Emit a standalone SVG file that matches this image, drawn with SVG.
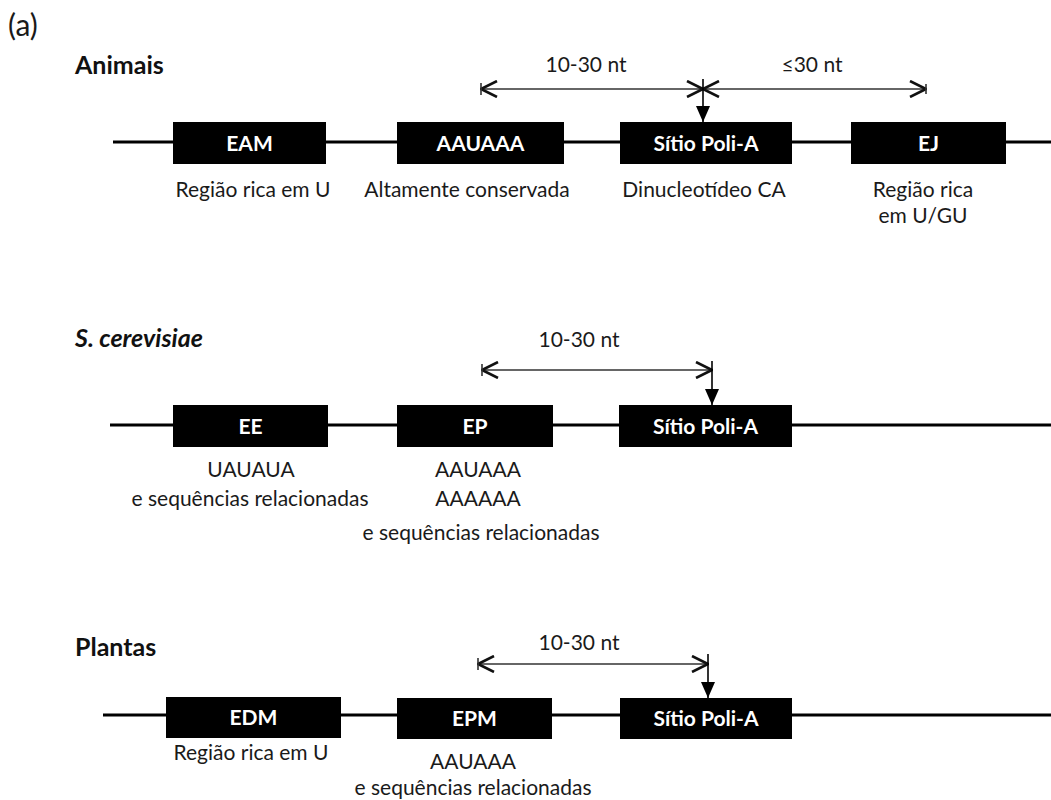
<svg xmlns="http://www.w3.org/2000/svg" width="1051" height="800" viewBox="0 0 1051 800">
<defs>
<style>
.t{font-family:Lato,"Liberation Sans",sans-serif;font-size:21px;fill:#1a1a1a;text-anchor:middle}
.lbl{font-family:Lato,"Liberation Sans",sans-serif;font-size:21px;font-weight:bold;fill:#fff;text-anchor:middle}
.ttl{font-family:Lato,"Liberation Sans",sans-serif;font-size:25px;font-weight:bold;fill:#111}
.box{fill:#000}
.main{stroke:#000;stroke-width:3;fill:none}
.dim{stroke:#333;stroke-width:1.6;fill:none;marker-start:url(#chev);marker-end:url(#chev)}
.tick{stroke:#333;stroke-width:1.6}
.down{stroke:#000;stroke-width:1.6;marker-end:url(#tri)}
</style>
<marker id="chev" viewBox="0 0 18 18" refX="17" refY="9" markerWidth="18" markerHeight="18" markerUnits="userSpaceOnUse" orient="auto-start-reverse">
<path d="M1,1 L17,9 L1,17" fill="none" stroke="#111" stroke-width="2.6"/>
</marker>
<marker id="tri" viewBox="0 0 16 14" refX="16" refY="7" markerWidth="16" markerHeight="14" markerUnits="userSpaceOnUse" orient="auto">
<path d="M0,0 L16,7 L0,14 z" fill="#000"/>
</marker>
</defs>
<rect width="1051" height="800" fill="#fff"/>
<text x="8" y="36" style="font-family:Lato,'Liberation Sans',sans-serif;font-size:30px;fill:#1a1a1a">(a)</text>
<text class="ttl" x="75" y="74">Animais</text>
<text class="ttl" x="75" y="347" font-style="italic">S. cerevisiae</text>
<text class="ttl" x="75" y="656">Plantas</text>
<g id="connectors">
<line class="main" x1="113" y1="142" x2="1051" y2="142"/>
<line class="main" x1="110" y1="425" x2="1051" y2="425"/>
<line class="main" x1="103" y1="715" x2="1051" y2="715"/>
<line class="dim" x1="481" y1="89" x2="703" y2="89"/>
<line class="tick" x1="481" y1="83" x2="481" y2="95"/>
<line class="dim" x1="703" y1="89" x2="926" y2="89"/>
<line class="tick" x1="926" y1="84" x2="926" y2="94"/>
<line class="down" x1="703" y1="79" x2="703" y2="122"/>
<text class="t" x="586" y="72">10-30 nt</text>
<text class="t" x="812" y="72">≤30 nt</text>
<line class="dim" x1="482" y1="370" x2="712" y2="370"/>
<line class="tick" x1="482" y1="364" x2="482" y2="376"/>
<line class="down" x1="712" y1="361" x2="712" y2="405"/>
<text class="t" x="579" y="347">10-30 nt</text>
<line class="dim" x1="478" y1="664" x2="708" y2="664"/>
<line class="tick" x1="478" y1="658" x2="478" y2="670"/>
<line class="down" x1="708" y1="654" x2="708" y2="698"/>
<text class="t" x="579" y="650">10-30 nt</text>
</g>
<g id="eam">
<rect class="box" x="173" y="122" width="153" height="42"/>
<text class="lbl" x="249.5" y="151">EAM</text>
<text class="t" x="253" y="197">Região rica em U</text>
</g>
<g id="aauaaa">
<rect class="box" x="397" y="122" width="167" height="42"/>
<text class="lbl" x="480.5" y="151">AAUAAA</text>
<text class="t" x="467" y="197">Altamente conservada</text>
</g>
<g id="poli-a-animais">
<rect class="box" x="620" y="122" width="172" height="42"/>
<text class="lbl" x="706" y="151">Sítio Poli-A</text>
<text class="t" x="704" y="197">Dinucleotídeo CA</text>
</g>
<g id="ej">
<rect class="box" x="851" y="122" width="155" height="42"/>
<text class="lbl" x="928.5" y="151">EJ</text>
<text class="t" x="923" y="197">Região rica</text>
<text class="t" x="923" y="223">em U/GU</text>
</g>
<g id="ee">
<rect class="box" x="173" y="405" width="155" height="42"/>
<text class="lbl" x="250.5" y="434">EE</text>
<text class="t" x="251" y="477">UAUAUA</text>
<text class="t" x="250" y="506">e sequências relacionadas</text>
</g>
<g id="ep">
<rect class="box" x="397" y="405" width="156" height="42"/>
<text class="lbl" x="475" y="434">EP</text>
<text class="t" x="478" y="477">AAUAAA</text>
<text class="t" x="478" y="506">AAAAAA</text>
<text class="t" x="481" y="540">e sequências relacionadas</text>
</g>
<g id="poli-a-levedura">
<rect class="box" x="619" y="405" width="173" height="42"/>
<text class="lbl" x="705.5" y="434">Sítio Poli-A</text>
</g>
<g id="edm">
<rect class="box" x="166" y="697" width="175" height="41"/>
<text class="lbl" x="253.5" y="725">EDM</text>
<text class="t" x="251" y="760">Região rica em U</text>
</g>
<g id="epm">
<rect class="box" x="397" y="698" width="155" height="41"/>
<text class="lbl" x="474.5" y="726">EPM</text>
<text class="t" x="473" y="769">AAUAAA</text>
<text class="t" x="473" y="795">e sequências relacionadas</text>
</g>
<g id="poli-a-plantas">
<rect class="box" x="620" y="698" width="172" height="41"/>
<text class="lbl" x="706" y="726">Sítio Poli-A</text>
</g>
</svg>
